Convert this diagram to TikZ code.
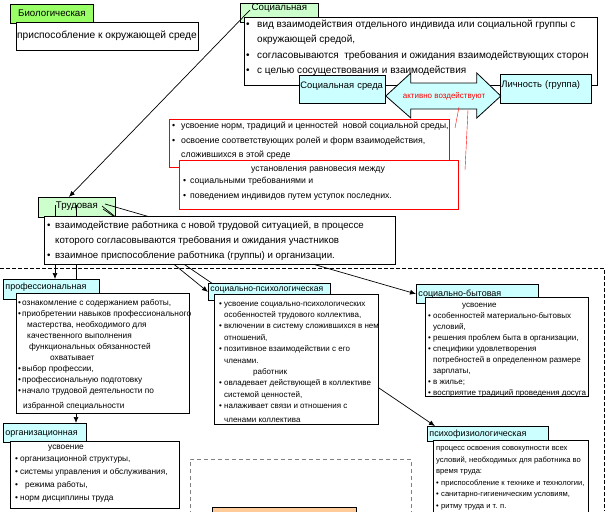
\documentclass[tikz,border=0pt]{standalone}
\usepackage{fontspec}
\setmainfont{Liberation Sans}
\usetikzlibrary{calc,positioning,arrows.meta}
\definecolor{limeg}{RGB}{153,255,102}
\definecolor{paleg}{RGB}{204,255,204}
\definecolor{palec}{RGB}{204,255,255}
\definecolor{paleo}{RGB}{255,204,153}
\pgfdeclarelayer{back}\pgfdeclarelayer{mid}\pgfsetlayers{back,mid,main}
\newcommand\itm[1][5pt]{\makebox[#1][l]{\textbullet}}
\newcommand\lns[1]{\begin{tabular}[t]{@{}l@{}}#1\end{tabular}}
\newcommand\fs[2]{\fontsize{#1}{#2}\selectfont}
\tikzset{
 frame/.style 2 args={draw,line width=.8pt,fill=white,anchor=north west,inner sep=0pt,minimum width=#1pt,minimum height=#2pt},
 lbl/.style={draw,line width=.8pt,anchor=north west,inner xsep=2pt,inner ysep=0pt,align=left},
 txt/.style={anchor=base west,inner sep=0pt},
 arr/.style={-{Latex[length=6pt,width=5pt]},line width=.7pt},
}
\begin{document}
\begin{tikzpicture}[x=1pt,y=-1pt]
\useasboundingbox(0,0)rectangle(607,511);
\clip(0,0)rectangle(607,511);
\begin{pgfonlayer}{back}
\node[lbl,fill=paleg,text width=73pt,align=center,text height=11.5pt,text depth=8.5pt,font=\fs{9.7}{11}](trud)at(38,197){Трудовая};
\end{pgfonlayer}
\node[lbl,fill=limeg,text width=79pt,align=center,text height=12.5pt,text depth=6.5pt,font=\fs{9.7}{11}](bio)at(10,4){Биологическая};
\node[frame={182}{28}](biobox)at(16,22){};
\node[txt,font=\fs{10.2}{12}](biotx)at(17,38){приспособление к окружающей среде};
\node[lbl,fill=paleg,text width=74pt,align=center,text height=7.5pt,text depth=11.5pt,font=\fs{9.7}{11}](soc)at(240,3){Социальная};
\node[frame={353}{68}](socbox)at(244,17){};
\node[txt,font=\fs{10}{15.3}](soctx)at(246,27.5){\lns{\itm[11pt]вид взаимодействия отдельного индивида или социальной группы с\\
 \hspace*{11pt}окружающей средой,\\
 \itm[11pt]согласовываются\ \ требования и ожидания взаимодействующих сторон\\
 \itm[11pt]с целью сосуществования и взаимодействия}};
\coordinate(s0)at(250,10);
\draw[arr](s0)--([xshift=-8pt]trud.north);
\node[lbl,fill=palec,inner xsep=1pt,text width=84pt,text height=12.6pt,text depth=15.4pt,font=\fs{9.4}{12}](sreda)at(299,75){Социальная среда};
\node[lbl,fill=palec,inner xsep=1pt,text width=89pt,text height=12.6pt,text depth=16.4pt,font=\fs{9.4}{12}](lich)at(500,74){Личность (группа)};
\draw[fill=palec,line width=.8pt](sreda.east|-0,96)--++(25,-23)--++(0,10)--++(66,0)--++(0,-10)--++(24,23)
 --++(-24,22)--++(0,-9)--++(-66,0)--++(0,9)--cycle;
\node[font=\fs{8}{10},text=red,inner sep=0pt](act)at(444,96){активно воздействуют};
\coordinate(r1)at(459,107);\coordinate(r2)at(468,110);
\draw[red,line width=.4pt](r1)--(455,128);
\draw[red,line width=.4pt](r2)--(465,170);
\node[frame={280}{48},draw=red](rb1)at(169,119){};
\node[txt,font=\fs{8.8}{14.5}](rb1tx)at(172,128.6){\lns{\itm[9pt]усвоение норм, традиций и ценностей\ \ новой социальной среды,\\
 \itm[9pt]освоение соответствующих ролей и форм взаимодействия,\\
 \hspace*{9pt}сложившихся в этой среде}};
\node[frame={279}{49},draw=red](rb2)at(179,160){};
\node[txt,font=\fs{8.7}{14.5}](rb2tx)at(183,171.5){\lns{\hspace*{68pt}установления равновесия между\\[-2.5pt]
 \itm[7pt]социальными требованиями и\\
 \itm[7pt]поведением индивидов путем уступок последних.}};
\node[frame={351}{48}](trudbox)at(44,216){};
\node[txt,font=\fs{9.7}{15}](trudtx)at(47,228){\lns{\itm[8pt]взаимодействие работника с новой трудовой ситуацией, в процессе\\
 \hspace*{8pt}которого согласовываются требования и ожидания участников\\
 \itm[8pt]взаимное приспособление работника (группы) и организации.}};
\draw[dash pattern=on 4pt off 2pt,line width=.7pt](0,268)--(604,268)--(604,511);
\node[lbl,fill=palec,text width=92pt,text height=10.3pt,text depth=9.7pt,font=\fs{9}{11}](prof)at(3,279){профессиональная};
\node[frame={173}{120}](profbox)at(16,293){};
\node[txt,font=\fs{8.3}{11.1}](proftx)at(18,305){\lns{\itm[4pt]ознакомление с содержанием работы,\\
 \itm[4pt]приобретении навыков профессионального\\
 \hspace*{9pt}мастерства, необходимого для\\
 \hspace*{9pt}качественного выполнения\\
 \hspace*{11pt}функциональных обязанностей\\
 \hspace*{32pt}охватывает\\
 \itm[4pt]выбор профессии,\\
 \itm[4pt]профессиональную подготовку\\
 \itm[4pt]начало трудовой деятельности по\\[4pt]
 \hspace*{5pt}избранной специальности}};
\node[lbl,fill=palec,text width=79pt,text height=12.5pt,text depth=6.5pt,font=\fs{9}{11}](org)at(3,423){организационная};
\node[frame={169}{67}](orgbox)at(10,441){};
\node[txt,font=\fs{8.3}{12.75}](orgtx)at(15,449){\lns{\hspace*{33pt}усвоение\\
 \itm организационной структуры,\\
 \itm системы управления и обслуживания,\\
 \itm[10pt]режима работы,\\
 \itm норм дисциплины труда}};
\node[lbl,fill=palec,text width=118pt,text height=8.3pt,text depth=8.7pt,font=\fs{8.6}{11}](psy)at(208,283){социально-психологическая};
\node[frame={164}{130}](psybox)at(214,294){};
\node[txt,font=\fs{8}{11.4}](psytx)at(219,306){\lns{\itm усвоение социально-психологических\\
 \hspace*{5pt}особенностей трудового коллектива,\\
 \itm включении в систему сложившихся в нем\\
 \hspace*{5pt}отношений,\\
 \itm позитивное взаимодействии с его\\
 \hspace*{5pt}членами.\\
 \hspace*{34pt}работник\\
 \itm овладевает действующей в коллективе\\
 \hspace*{5pt}системой ценностей,\\
 \itm налаживает связи и отношения с\\[2pt]
 \hspace*{5pt}членами коллектива}};
\node[lbl,fill=palec,text width=118pt,text height=12.3pt,text depth=6.7pt,font=\fs{9}{11}](byt)at(416,284){социально-бытовая};
\node[frame={163}{99}](bytbox)at(425,297){};
\node[txt,font=\fs{8}{11.1}](byttx)at(428,307){\lns{\hspace*{34pt}усвоение\\
 \itm особенностей материально-бытовых\\
 \hspace*{5pt}условий,\\
 \itm решения проблем быта в организации,\\
 \itm специфики удовлетворения\\
 \hspace*{5pt}потребностей в определенном размере\\
 \hspace*{5pt}зарплаты,\\
 \itm в жилье;\\
 \itm восприятие традиций проведения досуга}};
\node[lbl,fill=palec,text width=117pt,text height=10.3pt,text depth=4.7pt,font=\fs{9}{11}](psf)at(427,426){психофизиологическая};
\node[frame={155}{80}](psfbox)at(433,440){};
\node[txt,font=\fs{7.6}{11.6}](psftx)at(436,450.5){\lns{процесс освоения совокупности всех\\
 условий, необходимых для работника во\\
 время труда:\\
 \itm приспособление к технике и технологии,\\
 \itm санитарно-гигиеническим условиям,\\
 \itm ритму труда и т. п.}};
\draw[gray,dash pattern=on 4pt off 3pt,line width=.8pt](190,515)--(190,459)--(411,459)--(411,515);
\node[frame={144}{10},fill=paleo](orng)at(212,507){};
\begin{pgfonlayer}{mid}
\coordinate(t1)at(55,205);\coordinate(t2)at(76,205);\coordinate(t3)at(102,206);
\coordinate(t4)at(103,209);\coordinate(t5)at(105,204);
\draw[arr](t1)--(t1|-prof.north);
\draw[arr](t2)--(t2|-org.north);
\draw[arr](t3)--(psy.west);
\draw[line width=.7pt](t4)--($(psy.north west)+(8,3)$);
\draw[arr](t5)--(byt.west);
\draw[arr]($(psybox.east)+(0,28.5)$)--([xshift=8pt]psf.north west);
\end{pgfonlayer}
\end{tikzpicture}
\end{document}
